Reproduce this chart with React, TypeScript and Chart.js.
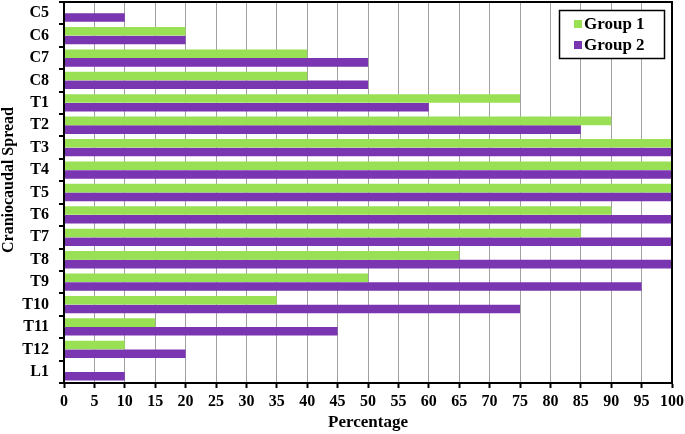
import React, { useEffect, useRef } from "react";
import { Chart, registerables } from "chart.js";

Chart.register(...registerables);

const categories = ["C5", "C6", "C7", "C8", "T1", "T2", "T3", "T4", "T5", "T6", "T7", "T8", "T9", "T10", "T11", "T12", "L1"];
const group1 = [0, 20, 40, 40, 75, 90, 100, 100, 100, 90, 85, 65, 50, 35, 15, 10, 0];
const group2 = [10, 20, 50, 50, 60, 85, 100, 100, 100, 100, 100, 100, 95, 75, 45, 20, 10];
const seriesNames = ["Group 1", "Group 2"];
const seriesColors = ["#99e055", "#7a35b0"];
const xTitle = "Percentage";
const yTitle = "Craniocaudal Spread";

const FONT = "'Liberation Serif', 'Times New Roman', serif";

const frameAndLegend = {
  id: "frameAndLegend",
  afterDraw(chart: any) {
    const { ctx, chartArea } = chart;
    ctx.save();
    ctx.strokeStyle = "#000";
    ctx.lineWidth = 2;
    ctx.strokeRect(chartArea.left, chartArea.top, chartArea.right - chartArea.left, chartArea.bottom - chartArea.top);
    // y title
    ctx.save();
    ctx.translate(9, 180);
    ctx.rotate(-Math.PI / 2);
    ctx.font = `bold 16px ${FONT}`;
    ctx.fillStyle = "#000";
    ctx.textAlign = "center";
    ctx.textBaseline = "middle";
    ctx.fillText(yTitle, 0, 0);
    ctx.restore();
    // legend box
    const bx = 559, by = 10, bw = 105, bh = 48;
    ctx.fillStyle = "#fff";
    ctx.fillRect(bx, by, bw, bh);
    ctx.lineWidth = 1.5;
    ctx.strokeRect(bx + 0.5, by + 0.5, bw, bh);
    ctx.font = `bold 17px ${FONT}`;
    ctx.textBaseline = "middle";
    ctx.textAlign = "left";
    seriesNames.forEach((n, i) => {
      const y = by + 14 + i * 21;
      ctx.fillStyle = seriesColors[i];
      ctx.fillRect(bx + 15, y - 4, 8, 8);
      ctx.fillStyle = "#000";
      ctx.fillText(n, bx + 25, y + 1);
    });
    ctx.restore();
  },
};

export default function App() {
  const ref = useRef<HTMLCanvasElement>(null);
  useEffect(() => {
    document.body.style.margin = "0";
    const chart = new Chart(ref.current!, {
      type: "bar",
      data: {
        labels: categories,
        datasets: [
          { label: seriesNames[0], data: group1, backgroundColor: seriesColors[0], categoryPercentage: 0.78, barPercentage: 0.98 },
          { label: seriesNames[1], data: group2, backgroundColor: seriesColors[1], categoryPercentage: 0.78, barPercentage: 0.98 },
        ],
      },
      options: {
        indexAxis: "y",
        responsive: false,
        animation: false,
        layout: { padding: { top: 2, right: 13, left: 0, bottom: 0 } },
        plugins: { legend: { display: false }, tooltip: { enabled: false } },
        scales: {
          x: {
            min: 0,
            max: 100,
            ticks: { stepSize: 5, color: "#000", font: { family: FONT, size: 16, weight: "bold" }, padding: 4 },
            grid: { color: "#a0a0a0", lineWidth: 1, tickColor: "#000", tickLength: 5, tickWidth: 2 },
            border: { color: "#000", width: 2 },
            title: { display: true, text: xTitle, color: "#000", font: { family: FONT, size: 17, weight: "bold" }, padding: { top: 0, bottom: 1 } },
            afterFit(scale: any) { scale.height = 51; scale.paddingLeft = 0; scale.paddingRight = 0; },
          },
          y: {
            ticks: { color: "#000", font: { family: FONT, size: 16, weight: "bold" }, padding: 10 },
            grid: { offset: true, drawOnChartArea: false, color: "#000", tickLength: 5, lineWidth: 2 },
            border: { color: "#000", width: 2 },
            title: { display: false },
            afterFit(scale: any) { scale.width = 64; scale.paddingTop = 0; scale.paddingBottom = 0; },
          },
        },
      },
      plugins: [frameAndLegend],
    } as any);
    return () => chart.destroy();
  }, []);
  return <canvas ref={ref} width={685} height={434} style={{ display: "block" }} />;
}
